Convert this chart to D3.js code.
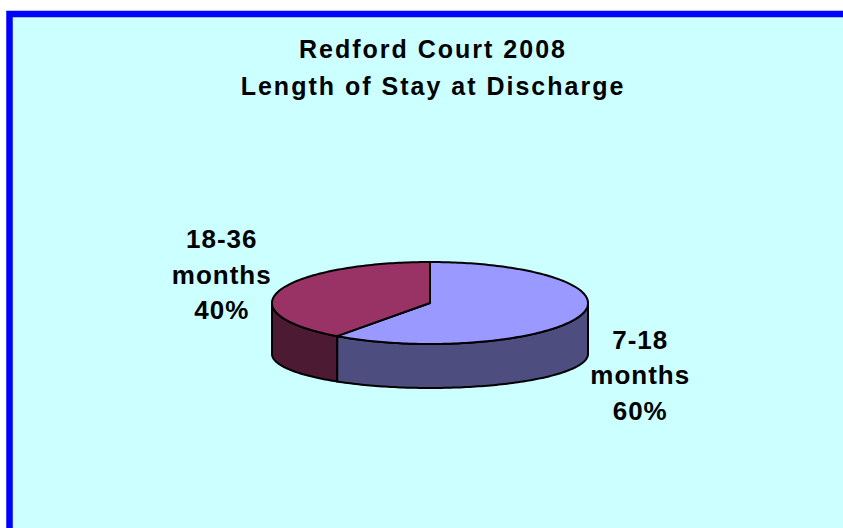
<!DOCTYPE html>
<html>
<head>
<meta charset="utf-8">
<script src="https://cdn.jsdelivr.net/npm/d3@7"></script>
<style>
  body { margin: 0; background: #fff; }
  text { font-family: "Liberation Sans", Arial, sans-serif; font-weight: bold; fill: #000; }
</style>
</head>
<body>
<div class="chart"></div>
<script>
  // chart data
  const titleLines = ["Redford Court 2008", "Length of Stay at Discharge"];
  const categories = ["7-18 months", "18-36 months"];
  const values = [60, 40];
  const labelLines = [["7-18", "months", "60%"], ["18-36", "months", "40%"]];
  const topColors = ["#9999ff", "#993366"];
  const sideColors = ["#4d4d80", "#4d1a33"];

  const width = 843, height = 528;

  // pie geometry (top ellipse + flatter bottom ellipse for the perspective)
  const cx = 430, cy = 303, rx = 158, ry = 41;
  const cyB = 354, ryB = 34;

  const svg = d3.select(".chart").append("svg")
      .attr("width", width)
      .attr("height", height);

  // frame
  svg.append("rect")
    .attr("x", 9.5)
    .attr("y", 14)
    .attr("width", 900)
    .attr("height", 600)
    .attr("fill", "#ccffff")
    .attr("stroke", "#0000ff")
    .attr("stroke-width", 6.5);

  // title
  const title = svg.append("text")
    .attr("text-anchor", "middle")
    .style("font-size", "25px")
    .style("letter-spacing", "2px");
  titleLines.forEach((t, i) => {
    title.append("tspan")
      .attr("x", 433)
      .attr("y", 58 + i * 37)
      .text(t);
  });

  const pie = d3.pie().sort(null).value(d => d.value);
  const arcs = pie(categories.map((c, i) => ({name: c, value: values[i], i: i})));

  const topPt = a => [cx + rx * Math.sin(a), cy - ry * Math.cos(a)];
  const botPt = a => [cx + rx * Math.sin(a), cyB - ryB * Math.cos(a)];

  function arcPoints(f, a0, a1) {
    const n = Math.max(2, Math.ceil((a1 - a0) / 0.02));
    return d3.range(n + 1).map(k => f(a0 + (a1 - a0) * k / n));
  }

  const line = d3.line();

  // side walls: only the front half (90deg .. 270deg) is visible
  const g = svg.append("g");
  arcs.forEach(d => {
    const a0 = Math.max(d.startAngle, Math.PI / 2);
    const a1 = Math.min(d.endAngle, Math.PI * 1.5);
    if (a1 <= a0) return;
    const pts = arcPoints(topPt, a0, a1).concat(arcPoints(botPt, a0, a1).reverse());
    g.append("path")
      .attr("d", line(pts) + "Z")
      .attr("fill", sideColors[d.data.i])
      .attr("stroke", "#000")
      .attr("stroke-width", 2)
      .attr("stroke-linejoin", "round");
  });

  // top faces
  arcs.forEach(d => {
    const pts = [[cx, cy]].concat(arcPoints(topPt, d.startAngle, d.endAngle));
    g.append("path")
      .attr("d", line(pts) + "Z")
      .attr("fill", topColors[d.data.i])
      .attr("stroke", "#000")
      .attr("stroke-width", 2)
      .attr("stroke-linejoin", "round");
  });

  // labels outside the pie, placed from the slice mid angle
  arcs.forEach(d => {
    const a = (d.startAngle + d.endAngle) / 2;
    const lx = cx + 220 * Math.sin(a);
    const ly = cy + 23 - 163 * Math.cos(a);
    const t = svg.append("text")
      .attr("text-anchor", "middle")
      .style("font-size", "26px")
      .style("letter-spacing", "1px");
    labelLines[d.data.i].forEach((s, k) => {
      t.append("tspan")
        .attr("x", lx + 1)
        .attr("y", ly + 8 + (k - 1) * 35.5)
        .text(s);
    });
  });
</script>
</body>
</html>
